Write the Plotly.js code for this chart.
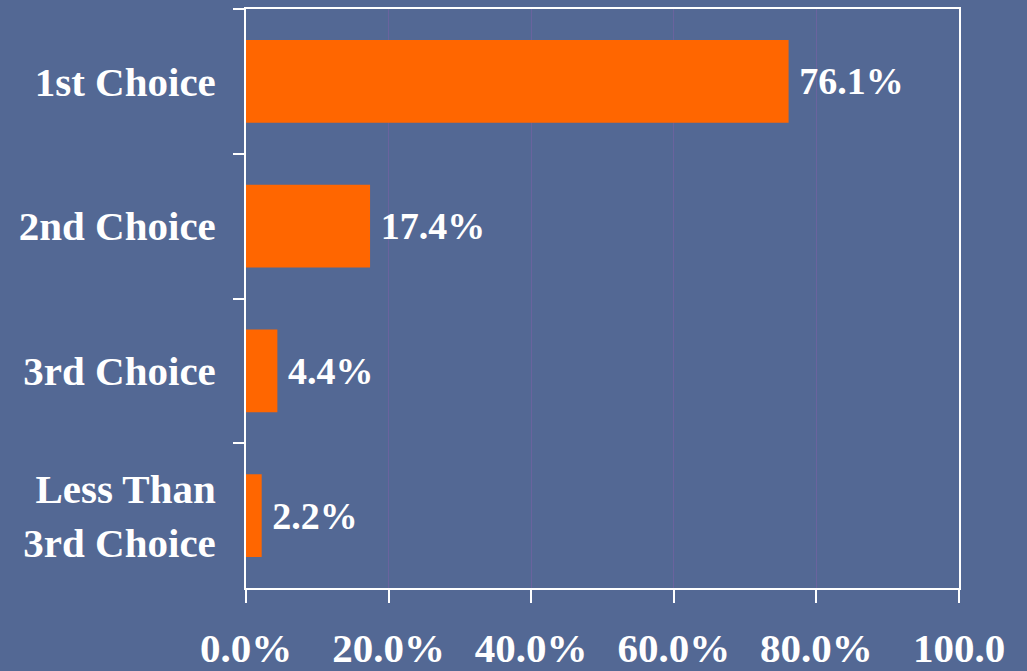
<!DOCTYPE html>
<html>
<head>
<meta charset="utf-8">
<script src="https://cdn.plot.ly/plotly-3.0.1.min.js"></script>
<style>html,body{margin:0;padding:0;background:#536894;}#chart{width:1027px;height:671px;}</style>
</head>
<body>
<div id="chart"></div>
<script>
const categories = ["1st Choice", "2nd Choice", "3rd Choice", "Less Than<br>3rd Choice"];
const values = [76.1, 17.4, 4.4, 2.2];
const tickVals = [0, 20, 40, 60, 80, 100];
const tickText = ["0.0%", "20.0%", "40.0%", "60.0%", "80.0%", "100.0"];

const fam = "Liberation Serif, Times New Roman, serif";
const tickFont = {family: fam, color: "#ffffff", size: 41, weight: 700};
const labelFont = {family: fam, color: "#ffffff", size: 38, weight: 700};

Plotly.newPlot("chart", [{
  type: "bar",
  orientation: "h",
  y: categories,
  x: values,
  marker: {color: "#ff6600"},
  text: values.map(v => "\u2009" + v.toFixed(1) + "%"),
  textposition: "outside",
  textfont: labelFont,
  cliponaxis: false,
  hoverinfo: "none"
}], {
  width: 1027,
  height: 671,
  paper_bgcolor: "#536894",
  plot_bgcolor: "#536894",
  margin: {l: 246, r: 68, t: 9, b: 83},
  bargap: 0.43,
  showlegend: false,
  font: tickFont,
  xaxis: {
    range: [0, 100],
    tickvals: tickVals,
    ticktext: tickText,
    showgrid: true,
    gridcolor: "rgba(125,95,165,0.55)",
    gridwidth: 1,
    zeroline: false,
    showline: true,
    linecolor: "#ffffff",
    linewidth: 2,
    mirror: true,
    ticks: "outside",
    ticklen: 13,
    tickwidth: 2,
    tickcolor: "#ffffff",
    ticklabelstandoff: 10,
    tickfont: tickFont
  },
  yaxis: {
    autorange: "reversed",
    type: "category",
    showgrid: false,
    zeroline: false,
    showline: true,
    linecolor: "#ffffff",
    linewidth: 2,
    mirror: true,
    ticks: "outside",
    tickson: "boundaries",
    ticklen: 11,
    tickwidth: 2,
    tickcolor: "#ffffff",
    ticklabelstandoff: 20,
    tickfont: tickFont
  }
}, {staticPlot: true});
</script>
</body>
</html>
